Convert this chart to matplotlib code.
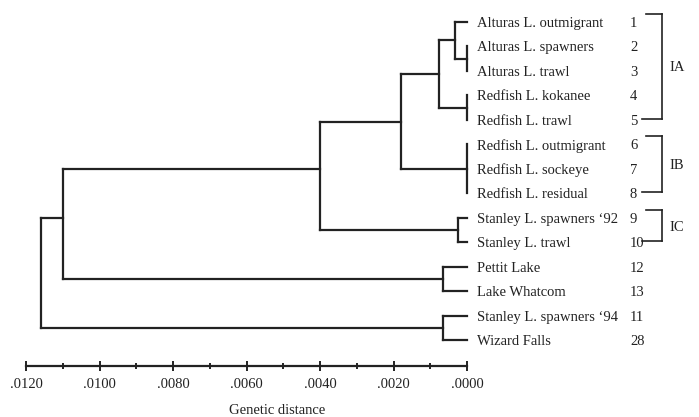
import matplotlib
matplotlib.use('Agg')
import matplotlib.pyplot as plt
import numpy as np
from matplotlib.ticker import MultipleLocator, FuncFormatter

# leaves, top to bottom
labels = ['Alturas L. outmigrant', 'Alturas L. spawners', 'Alturas L. trawl',
          'Redfish L. kokanee', 'Redfish L. trawl', 'Redfish L. outmigrant',
          'Redfish L. sockeye', 'Redfish L. residual', 'Stanley L. spawners \u201892',
          'Stanley L. trawl', 'Pettit Lake', 'Lake Whatcom',
          'Stanley L. spawners \u201894', 'Wizard Falls']
codes = ['1', '2', '3', '4', '5', '6', '7', '8', '9', '10', '12', '13', '11', '28']

# internal nodes (ids continue after the leaves): children, genetic distance
children = [[1, 2], [0, 14], [3, 4], [15, 16], [5, 6, 7], [17, 18],
            [8, 9], [19, 20], [10, 11], [21, 22], [12, 13], [23, 24]]
heights = [0.0, 0.00033, 0.0, 0.00076, 0.0, 0.0018,
           0.00025, 0.0040, 0.00065, 0.0110, 0.00065, 0.0116]

groups = ['IA', 'IB', 'IC']
group_first = [0, 5, 8]
group_last = [4, 7, 9]

# layout (pixels of the 699x417 picture)
W, H = 699, 417
row_px, first_px = 24.5, 22
x_zero, x_max = 467, 26          # where .0000 and .0120 sit
row_attach = {21: 6.0, 23: 8.0}  # where the drawn joins sit

col = '#222222'
plt.rcParams['font.family'] = ['Liberation Serif', 'DejaVu Serif']

fig = plt.figure(figsize=(W / 100, H / 100), dpi=100)
ax = fig.add_axes([0, 0, 1, 1])
per_px = 0.012 / (x_zero - x_max)
ax.set_xlim(x_zero * per_px, -(W - x_zero) * per_px)
ax.set_ylim((H - first_px) / row_px, -first_px / row_px)
ax.axis('off')

n = len(labels)
ypos = {i: float(i) for i in range(n)}
xpos = {i: 0.0 for i in range(n)}
for k, (ch, h) in enumerate(zip(children, heights)):
    node = n + k
    ys = [ypos[c] for c in ch]
    ax.plot([h, h], [min(ys), max(ys)], color=col, lw=1.6, solid_capstyle='projecting')
    for c in ch:
        ax.plot([xpos[c], h], [ypos[c], ypos[c]], color=col, lw=1.6,
                solid_capstyle='projecting')
    ypos[node] = row_attach.get(node, float(np.mean(ys)))
    xpos[node] = h

tr = ax.get_yaxis_transform()
for i, (lab, cd) in enumerate(zip(labels, codes)):
    ax.text(477 / W, i + 0.06, lab, transform=tr, ha='left', va='center', fontsize=10.5, color='#222')
    ax.text(630 / W, i + 0.06, cd, transform=tr, ha='left', va='center', fontsize=10.5, color='#222')

# group brackets
bx, btop, bbot = 662 / W, 646 / W, 642 / W
dy_top = 8 / row_px
dy_bot = 1 / row_px
for g, a, b in zip(groups, group_first, group_last):
    y0, y1 = a - dy_top, b - dy_bot
    ax.plot([bx, bx], [y0, y1], transform=tr, color=col, lw=1.2)
    ax.plot([btop, bx], [y0, y0], transform=tr, color=col, lw=1.2)
    ax.plot([bbot, bx], [y1, y1], transform=tr, color=col, lw=1.2)
    ax.text(669 / W, (y0 + y1) / 2 + 0.06, g, transform=tr, ha='left', va='center',
            fontsize=10.5, color='#222')

# distance ruler
sc = fig.add_axes([x_max / W, 1 - 366 / H, (x_zero - x_max) / W, 1e-5])
sc.set_xlim(0.012, 0.0)
for s in ['top', 'left', 'right']:
    sc.spines[s].set_visible(False)
sc.spines['bottom'].set_linewidth(1.6)
sc.spines['bottom'].set_color(col)
sc.set_yticks([])
sc.xaxis.set_major_locator(MultipleLocator(0.002))
sc.xaxis.set_minor_locator(MultipleLocator(0.001))
sc.xaxis.set_major_formatter(FuncFormatter(lambda v, p: ('%.4f' % abs(v))[1:]))
sc.tick_params(axis='x', which='major', direction='inout', length=7, width=1.4,
               color=col, labelsize=10.5, pad=5, labelcolor='#222')
sc.tick_params(axis='x', which='minor', direction='inout', length=5, width=1.4, color=col)
fig.text(277 / W, 1 - 410 / H, 'Genetic distance', ha='center', va='center',
         fontsize=10.5, color='#222')

fig.savefig('out.png', dpi=100)
